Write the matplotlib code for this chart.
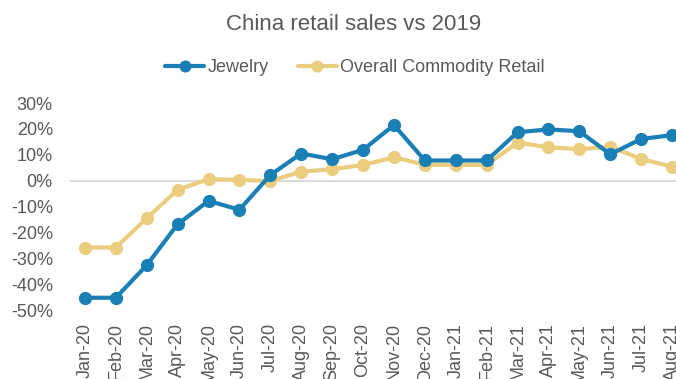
import matplotlib
matplotlib.use("Agg")
import matplotlib.pyplot as plt
from matplotlib.ticker import FuncFormatter

plt.rcParams['font.family'] = ['Liberation Sans', 'DejaVu Sans']

months = ["Jan-20", "Feb-20", "Mar-20", "Apr-20", "May-20", "Jun-20", "Jul-20",
          "Aug-20", "Sep-20", "Oct-20", "Nov-20", "Dec-20", "Jan-21", "Feb-21",
          "Mar-21", "Apr-21", "May-21", "Jun-21", "Jul-21", "Aug-21"]
jewelry = [-45.2, -45.2, -32.6, -16.8, -7.8, -11.2, 2.2, 10.5, 8.3, 11.9,
           21.5, 7.8, 7.8, 7.8, 18.7, 19.8, 19.1, 10.2, 16.1, 17.6]
overall = [-25.8, -25.8, -14.5, -3.5, 0.6, 0.3, -0.1, 3.5, 4.4, 6.1,
           9.0, 6.2, 6.1, 6.1, 14.7, 12.9, 12.2, 13.1, 8.4, 5.4]
yticks = [30, 20, 10, 0, -10, -20, -30, -40, -50]

BLUE = "#1a7fb5"
GOLD = "#ebcd80"
TEXT = "#595959"

W, H = 676, 379
fig = plt.figure(figsize=(W / 100, H / 100), dpi=100)

# plot area in pixel coordinates (the chart runs past the right edge)
left_px, right_px = 69.5, 687.5
top_px, bottom_px = 103.0, 310.2
ax = fig.add_axes([left_px / W, 1 - bottom_px / H,
                   (right_px - left_px) / W, (bottom_px - top_px) / H])

x = list(range(len(months)))
ax.axhline(0, color="#d9d9d9", lw=1.3, zorder=1)
l1, = ax.plot(x, jewelry, color=BLUE, lw=3.0, marker="o", ms=8.5,
              solid_capstyle="round", zorder=3, label="Jewelry")
l2, = ax.plot(x, overall, color=GOLD, lw=3.0, marker="o", ms=8.5,
              solid_capstyle="round", zorder=2, label="Overall Commodity Retail")

ax.set_xlim(-0.5, len(months) - 0.5)
ax.set_ylim(-50, 30)
ax.set_yticks(yticks)
ax.yaxis.set_major_formatter(FuncFormatter(lambda v, p: f"{v:.0f}%"))
ax.set_xticks(x)
ax.set_xticklabels(months, rotation=90)
ax.tick_params(axis="y", length=0, pad=12, labelsize=13, labelcolor=TEXT)
ax.tick_params(axis="x", length=0, pad=9, labelsize=13, labelcolor=TEXT)
for s in ax.spines.values():
    s.set_visible(False)

fig.text(354 / W, 1 - 25 / H, "China retail sales vs 2019", ha="center",
         va="center", fontsize=16, color=TEXT)

leg = fig.legend(handles=[l1, l2], loc="center", ncol=2,
                 bbox_to_anchor=(355 / W, 1 - 68 / H), frameon=False,
                 fontsize=13, handlelength=2.15, handletextpad=0.2,
                 columnspacing=1.6, labelcolor=TEXT, markerscale=0.9)

fig.savefig("out.png", dpi=100)
